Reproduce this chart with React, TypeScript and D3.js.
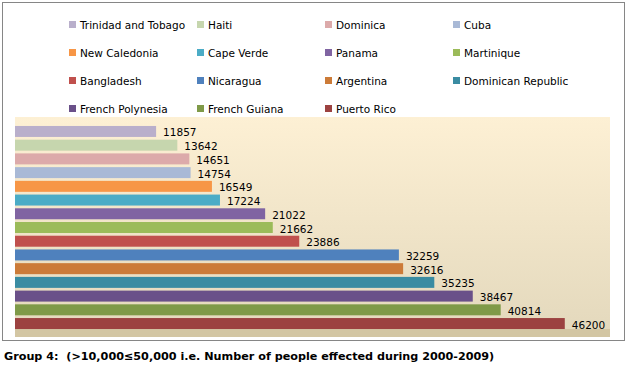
import React from "react";
import * as d3 from "d3";

const countries = [
  "Trinidad and Tobago", "Haiti", "Dominica", "Cuba",
  "New Caledonia", "Cape Verde", "Panama", "Martinique",
  "Bangladesh", "Nicaragua", "Argentina", "Dominican Republic",
  "French Polynesia", "French Guiana", "Puerto Rico",
];
const affected = [
  11857, 13642, 14651, 14754, 16549, 17224, 21022, 21662,
  23886, 32259, 32616, 35235, 38467, 40814, 46200,
];
const colors = [
  "#b9afcb", "#c6d6ae", "#dcaaaa", "#a9b9d6",
  "#f79646", "#4bacc6", "#8064a2", "#9bbb59",
  "#c0504d", "#4f81bd", "#cc7b38", "#3a8ca2",
  "#6a5089", "#7f9a48", "#9c4240",
];
const title = "Group 4:  (>10,000\u226450,000 i.e. Number of people effected during 2000-2009)";

const W = 630;
const H = 367;
const plot = { left: 15, right: 610, top: 117, bottom: 337 };
const floorTop = 329;

const App = () => {
  const x = d3.scaleLinear().domain([0, 50000]).range([plot.left, plot.right]);
  const y = d3.scaleBand<string>()
    .domain(countries)
    .range([124.6, 330.4])
    .paddingInner(0.2)
    .paddingOuter(0.1);

  // legend grid: 4 columns, row-major
  const legendX = [69, 197, 325, 453];
  const legendY = (row: number) => 25 + row * 28;

  return (
    <svg
      width={W}
      height={H}
      style={{ position: "absolute", left: 0, top: 0, background: "white" }}
      fontFamily="DejaVu Sans"
    >
      <defs>
        <linearGradient id="bg" x1="0" y1="0" x2="0" y2="1">
          <stop offset="0" stopColor="#fdf0d4" />
          <stop offset="1" stopColor="#e4d9bd" />
        </linearGradient>
      </defs>

      {/* outer frame */}
      <rect x={2.5} y={2.5} width={622} height={338} fill="white" stroke="#868686" strokeWidth={1} />

      {/* plot background + floor */}
      <rect x={plot.left} y={plot.top} width={plot.right - plot.left} height={floorTop - plot.top} fill="url(#bg)" />
      <rect x={plot.left} y={floorTop} width={plot.right - plot.left} height={plot.bottom - floorTop} fill="#d3c6a3" />

      {/* legend */}
      {countries.map((c, i) => {
        const lx = legendX[i % 4];
        const ly = legendY(Math.floor(i / 4));
        return (
          <g key={c}>
            <rect x={lx} y={ly - 4} width={7} height={7} fill={colors[i]} />
            <text x={lx + 11} y={ly + 4} fontSize={10.5} fill="#000">{c}</text>
          </g>
        );
      })}

      {/* bars */}
      {countries.map((c, i) => {
        const y0 = y(c) || 0;
        return (
          <g key={c}>
            <rect x={x(0)} y={y0} width={x(affected[i]) - x(0)} height={y.bandwidth()} fill={colors[i]} />
            <text
              x={x(affected[i]) + 7}
              y={y0 + y.bandwidth() / 2 + 5}
              fontSize={10.5}
              fill="#000"
            >
              {affected[i]}
            </text>
          </g>
        );
      })}

      <text x={4} y={360} fontSize={11.2} fontWeight="bold" fill="#000" style={{ whiteSpace: "pre" }}>{title}</text>
    </svg>
  );
};

export default App;
